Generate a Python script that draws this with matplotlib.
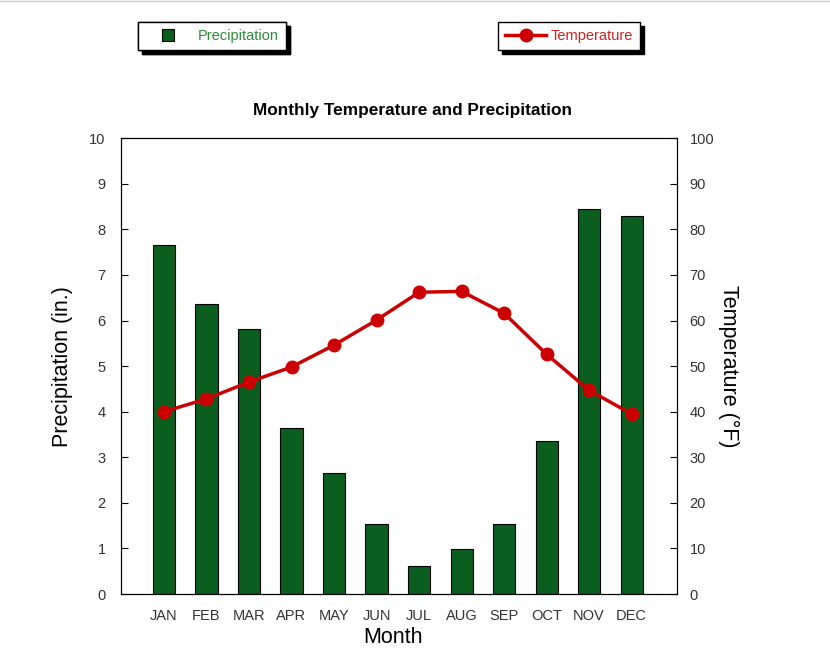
import matplotlib
matplotlib.use("Agg")
import matplotlib.pyplot as plt
from matplotlib.lines import Line2D
import numpy as np

plt.rcParams['font.family'] = ['Liberation Sans', 'DejaVu Sans']

months = ["JAN", "FEB", "MAR", "APR", "MAY", "JUN", "JUL", "AUG", "SEP", "OCT", "NOV", "DEC"]
precip = [7.65, 6.36, 5.81, 3.64, 2.65, 1.54, 0.61, 0.99, 1.54, 3.36, 8.44, 8.29]
temp = [40.0, 42.8, 46.5, 49.8, 54.6, 60.1, 66.2, 66.4, 61.6, 52.6, 44.7, 39.5]
precip_ticks = list(range(0, 11))
temp_ticks = list(range(0, 101, 10))

bar_color = "#0b5e1e"
line_color = "#cc0000"
tick_color = "#333333"

fig = plt.figure(figsize=(8.3, 6.54), dpi=100)
ax = fig.add_axes([0.1458, 0.0917, 0.670, 0.697])
x = np.arange(len(months))
ax.bar(x, precip, width=0.52, color=bar_color, edgecolor="black", linewidth=0.8, zorder=2)
ax.set_xlim(-1.01, 12.07)
ax.set_ylim(0, 10)
ax.set_yticks(precip_ticks)
ax.set_yticklabels([str(t) for t in precip_ticks], fontsize=10.5, color=tick_color)
ax.set_xticks(x)
ax.set_xticklabels(months, fontsize=10.5, color=tick_color)
ax.tick_params(axis='x', length=0, pad=11)
ax.tick_params(axis='y', direction='in', length=5, pad=11, right=False)
ax.set_ylabel("Precipitation (in.)", fontsize=15.5, labelpad=12)
ax.set_xlabel("Month", fontsize=15.5, labelpad=3, x=0.489)
ax.set_title("Monthly Temperature and Precipitation", fontsize=12.4, fontweight='bold',
             pad=17, x=0.525)

ax2 = ax.twinx()
ax2.plot(x, temp, color=line_color, linewidth=2.5, marker='o', markersize=9, zorder=3)
ax2.set_ylim(0, 100)
ax2.set_yticks(temp_ticks)
ax2.set_yticklabels([str(t) for t in temp_ticks], fontsize=10.5, color=tick_color)
ax2.tick_params(axis='y', direction='in', length=5, pad=9)
ax2.set_ylabel("Temperature (°F)", fontsize=15.5, rotation=-90, labelpad=18)

shadow = {'color': 'black', 'alpha': 1.0, 'ox': 3, 'oy': -3}
leg1 = fig.legend([Line2D([0], [0], linestyle='none', marker='s', markersize=8.5,
                          markerfacecolor=bar_color, markeredgecolor='black', markeredgewidth=0.8)],
                  ["Precipitation"],
                  loc='center', bbox_to_anchor=(0.2550, 0.945), frameon=True, fancybox=False,
                  shadow=shadow, edgecolor='black', fontsize=10.5, handlelength=3.2,
                  borderpad=0.5, handletextpad=0.4, borderaxespad=0)
leg1.get_texts()[0].set_color("#2e8b3a")
leg1.get_frame().set_linewidth(1.0)
leg2 = fig.legend([Line2D([0], [0], color=line_color, linewidth=2.5, marker='o', markersize=9)],
                  ["Temperature"], loc='center', bbox_to_anchor=(0.6855, 0.945), frameon=True,
                  fancybox=False, shadow=shadow, edgecolor='black', fontsize=10.5, handlelength=2.8,
                  borderpad=0.5, handletextpad=0.3, borderaxespad=0)
leg2.get_texts()[0].set_color("#d42020")
leg2.get_frame().set_linewidth(1.0)
fig.add_artist(leg1)

fig.add_artist(Line2D([0, 1], [0.998, 0.998], color="#cccccc", linewidth=1, transform=fig.transFigure))

fig.savefig("out.png", dpi=100)
